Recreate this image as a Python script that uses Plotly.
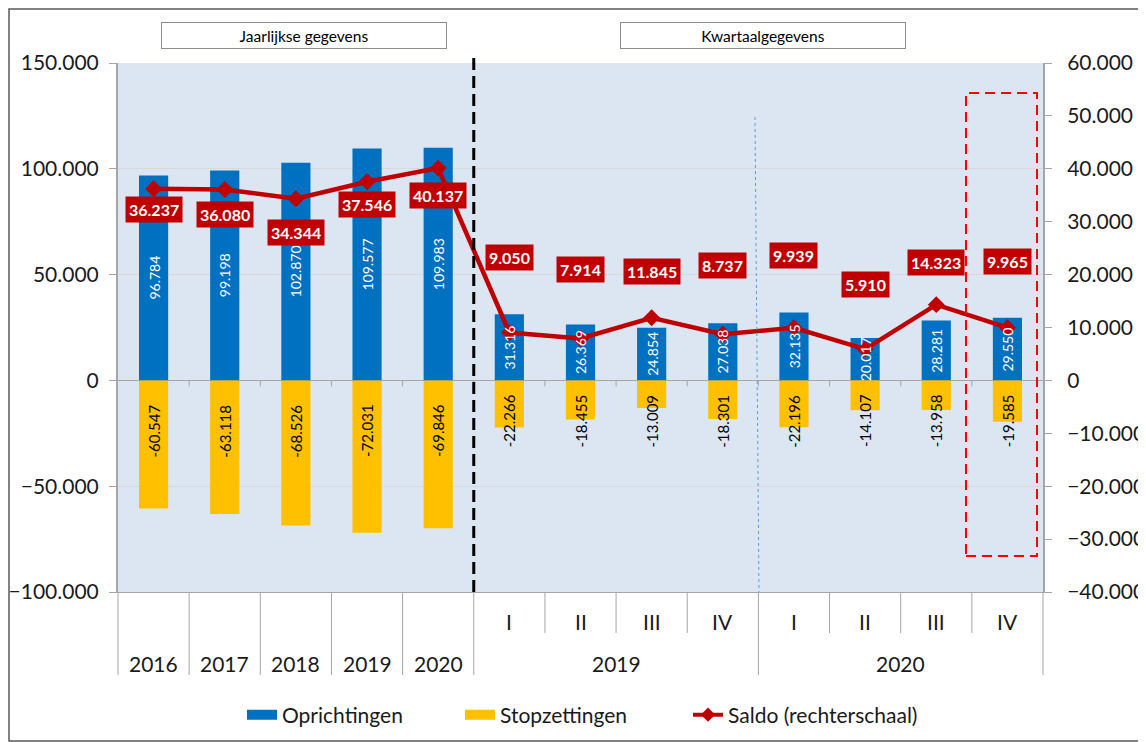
import plotly.graph_objects as go

# data
jaren = ["2016", "2017", "2018", "2019", "2020"]
kwartaal_jaren = ["2019", "2020"]
kwartalen = ["I", "II", "III", "IV"]
oprichtingen = [96784, 99198, 102870, 109577, 109983,
                31316, 26369, 24854, 27038, 32135, 20017, 28281, 29550]
stopzettingen = [-60547, -63118, -68526, -72031, -69846,
                 -22266, -18455, -13009, -18301, -22196, -14107, -13958, -19585]
saldo = [36237, 36080, 34344, 37546, 40137,
         9050, 7914, 11845, 8737, 9939, 5910, 14323, 9965]

categories = jaren + [f"{j} {k}" for j in kwartaal_jaren for k in kwartalen]
n_cat = len(categories)

# pixel offsets of the saldo labels (positive = above the point)
saldo_label_shift = [-21, -25, -34, -23, -27, 75, 69, 46, 69, 72, 65, 42, 66]

# the page body adds an 8px margin, so the figure is drawn 8px smaller
# and all screen positions below are given in window pixels
OFF = 8
W, H = 1146 - OFF, 742 - OFF
PL, PR, PT, PB = 118, 1043, 63, 592
FONT = "Lato"
GRAY = "#A6A6A6"
TXT = "#1a1a1a"
BLUE, YELLOW, RED = "#0070C0", "#FFC000", "#C00000"


def px(x):
    return (x - PL) / (PR - PL)


def py(y):
    return (PB - y) / (PB - PT)


fu = lambda s: f"{s:,}".replace(",", ".")

fig = go.Figure()
fig.add_trace(go.Bar(
    name="Oprichtingen", x=categories, y=oprichtingen, showlegend=False,
    marker=dict(color=BLUE, line=dict(width=0)), width=0.41,
))
fig.add_trace(go.Bar(
    name="Stopzettingen", x=categories, y=stopzettingen, showlegend=False,
    marker=dict(color=YELLOW, line=dict(width=0)), width=0.41,
))
fig.add_trace(go.Scatter(
    name="Saldo (rechterschaal)", x=categories, y=saldo, yaxis="y2", showlegend=False,
    mode="lines+markers",
    line=dict(color=RED, width=4.5),
    marker=dict(symbol="diamond", size=13, color=RED),
))

# legend entries, each in its own legend so they sit where the original has them
legend_items = [("Oprichtingen", BLUE, "legend", 282),
                ("Stopzettingen", YELLOW, "legend2", 500),
                ("Saldo (rechterschaal)", RED, "legend3", 728)]
legends = {}
for name, col, lg, text_x in legend_items:
    if col == RED:
        fig.add_trace(go.Scatter(name=name, x=[None], y=[None], yaxis="y2", legend=lg,
                                 mode="lines+markers", line=dict(color=RED, width=4),
                                 marker=dict(symbol="diamond", size=11, color=RED)))
    else:
        fig.add_trace(go.Scatter(name=name, x=[None], y=[None], legend=lg, mode="lines",
                                 line=dict(color=col, width=11)))
    legends[lg] = dict(orientation="h", x=px(text_x - 40), xanchor="left",
                       y=py(715), yanchor="middle", bgcolor="rgba(0,0,0,0)",
                       font=dict(family=FONT, size=21, color=TXT))

annotations = []
# values of the bars
for i, v in enumerate(oprichtingen):
    annotations.append(dict(x=i, y=v / 2, xref="x", yref="y", text=fu(v), textangle=-90,
                            showarrow=False, xanchor="center", yanchor="middle",
                            font=dict(family=FONT, size=14, color="white")))
for i, v in enumerate(stopzettingen):
    gap = -22 if i < len(jaren) else -12
    annotations.append(dict(x=i, y=0, xref="x", yref="y", yshift=gap, text=fu(v),
                            textangle=-90, showarrow=False, xanchor="center", yanchor="top",
                            font=dict(family=FONT, size=15, color="black")))
for i, (val, shift) in enumerate(zip(saldo, saldo_label_shift)):
    annotations.append(dict(
        x=i, y=val, xref="x", yref="y2", yshift=shift, showarrow=False,
        xanchor="center", yanchor="middle",
        text=fu(val), bgcolor=RED, borderpad=3,
        font=dict(family=FONT, size=16, color="white", weight="bold"),
    ))

# category labels below the axis
for i, j in enumerate(jaren):
    annotations.append(dict(x=i, y=py(663), xref="x", yref="paper", text=j,
                            xanchor="center", yanchor="middle", showarrow=False,
                            font=dict(family=FONT, size=21, color=TXT)))
for gi, j in enumerate(kwartaal_jaren):
    start = len(jaren) + gi * len(kwartalen)
    for qi, k in enumerate(kwartalen):
        annotations.append(dict(x=start + qi, y=py(621), xref="x", yref="paper", text=k,
                                xanchor="center", yanchor="middle", showarrow=False,
                                font=dict(family=FONT, size=21, color=TXT)))
    mid = start + (len(kwartalen) - 1) / 2
    annotations.append(dict(x=mid, y=py(663), xref="x", yref="paper", text=j,
                            xanchor="center", yanchor="middle", showarrow=False,
                            font=dict(family=FONT, size=21, color=TXT)))

# header boxes
for txt, cx in [("Jaarlijkse gegevens", 304), ("Kwartaalgegevens", 762.5)]:
    annotations.append(dict(x=px(cx), y=py(35.5), xref="paper", yref="paper", text=txt,
                            xanchor="center", yanchor="middle", showarrow=False,
                            width=284, height=25, borderpad=0, borderwidth=1,
                            bordercolor="#8C8C8C", bgcolor="white",
                            font=dict(family=FONT, size=15.5, color="black")))

shapes = []
# category dividers below the plot
full_bounds = [-0.5, 0.5, 1.5, 2.5, 3.5, 4.5, 8.5, 12.5]
inner_bounds = [5.5, 6.5, 7.5, 9.5, 10.5, 11.5]
for b in full_bounds + inner_bounds:
    depth = 83 if b in full_bounds else 41
    shapes.append(dict(type="line", xref="paper", yref="paper", x0=(b + 0.5) / n_cat,
                       x1=(b + 0.5) / n_cat, ysizemode="pixel", yanchor=0, y0=0, y1=-depth,
                       line=dict(color=GRAY, width=1)))
# small ticks on the zero line
for i in range(n_cat - 1):
    shapes.append(dict(type="line", xref="x", yref="y", x0=i + 0.5, x1=i + 0.5,
                       ysizemode="pixel", yanchor=0, y0=0, y1=-6,
                       line=dict(color=GRAY, width=1)))
# separator annual / quarterly
shapes.append(dict(type="line", xref="paper", yref="paper", x0=5 / n_cat, x1=5 / n_cat,
                   y0=0, y1=py(52), line=dict(color="black", width=3, dash="12px,6px")))
# thin dotted line between 2019 and 2020 quarters
shapes.append(dict(type="line", xref="paper", yref="paper", x0=px(755), x1=px(759),
                   y0=py(117), y1=0, line=dict(color="#5B9BD5", width=1, dash="dot")))
# red dashed highlight box
shapes.append(dict(type="rect", xref="paper", yref="paper", x0=px(966), x1=px(1037),
                   y0=py(556), y1=py(93), line=dict(color="#FF0000", width=2, dash="10px,6px")))
# outer border
shapes.append(dict(type="rect", xref="paper", yref="paper", x0=px(9), x1=px(1140),
                   y0=py(741), y1=py(9), line=dict(color="#595959", width=1.5)))

fig.update_layout(
    width=W, height=H,
    margin=dict(l=PL - OFF, r=W - (PR - OFF), t=PT - OFF, b=H - (PB - OFF), autoexpand=False),
    paper_bgcolor="white", plot_bgcolor="#DCE6F2",
    separators=",.",
    barmode="relative",
    font=dict(family=FONT, size=20, color=TXT),
    xaxis=dict(type="category", categoryorder="array", categoryarray=categories,
               range=[-0.5, n_cat - 0.5], showticklabels=False, ticks="",
               showgrid=False, zeroline=False, showline=True, linecolor=GRAY, linewidth=1),
    yaxis=dict(range=[-100000, 150000], dtick=50000, tickformat=",.0f",
               showgrid=True, gridcolor="#D9D9D9", gridwidth=1,
               zeroline=True, zerolinecolor=GRAY, zerolinewidth=1,
               showline=True, linecolor=GRAY, linewidth=2,
               ticks="outside", ticklen=7, tickcolor=GRAY, ticklabelstandoff=6,
               tickfont=dict(family=FONT, size=21, color=TXT)),
    yaxis2=dict(range=[-40000, 60000], dtick=10000, tickformat=",.0f",
                overlaying="y", side="right", showgrid=False, zeroline=False,
                showline=True, linecolor=GRAY, linewidth=2,
                ticks="outside", ticklen=7, tickcolor=GRAY, ticklabelstandoff=11,
                tickfont=dict(family=FONT, size=21, color=TXT)),
    annotations=annotations,
    shapes=shapes,
    **legends,
)

fig.write_html("out.html")
